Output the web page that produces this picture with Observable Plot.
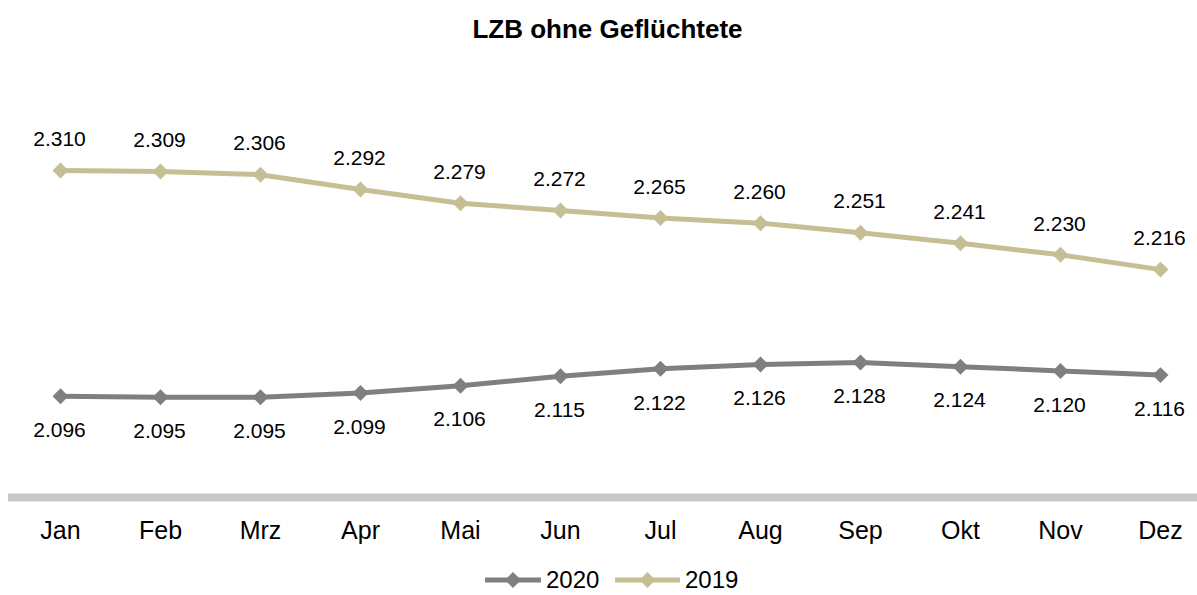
<!DOCTYPE html>
<html>
<head>
<meta charset="utf-8">
<script src="https://cdn.jsdelivr.net/npm/d3@7"></script>
<script src="https://cdn.jsdelivr.net/npm/@observablehq/plot@0.6"></script>
<style>
  html, body { margin: 0; padding: 0; background: #fff; }
  body { width: 1197px; height: 595px; overflow: hidden; font-family: "Liberation Sans", Arial, sans-serif; }
  #title { height: 60px; line-height: 58px; text-align: center; font-weight: bold; font-size: 26px; color: #000; padding-left: 18px; box-sizing: border-box; }
  #legend { height: 30px; position: relative; font-size: 24px; color: #000; }
  .item { position: absolute; top: 0; height: 30px; display: flex; align-items: center; }
  .item svg { margin-right: 5px; }
</style>
</head>
<body>
<div id="title">LZB ohne Geflüchtete</div>
<div id="chart"></div>
<div id="legend"></div>
<script>
const months = ["Jan", "Feb", "Mrz", "Apr", "Mai", "Jun", "Jul", "Aug", "Sep", "Okt", "Nov", "Dez"];
const values2020 = [2096, 2095, 2095, 2099, 2106, 2115, 2122, 2126, 2128, 2124, 2120, 2116];
const values2019 = [2310, 2309, 2306, 2292, 2279, 2272, 2265, 2260, 2251, 2241, 2230, 2216];
const seriesNames = ["2020", "2019"];
const seriesColors = ["#7f7f7f", "#c6bf94"];

const fmt = d => d3.format(",")(d).replace(/,/g, ".");
const data2020 = months.map((m, i) => ({month: m, value: values2020[i]}));
const data2019 = months.map((m, i) => ({month: m, value: values2019[i]}));

const chart = Plot.plot({
  width: 1197,
  height: 505,
  marginLeft: 59,
  marginRight: 36,
  marginTop: 15,
  marginBottom: 68,
  style: {fontFamily: "'Liberation Sans', Arial, sans-serif", color: "#000", background: "#fff"},
  x: {type: "point", domain: months, padding: 0},
  y: {domain: [2000, 2400], axis: null},
  marks: [
    Plot.ruleY([2000], {stroke: "#c8c8c8", strokeWidth: 8, insetLeft: -51, insetRight: -36}),
    Plot.axisX({tickSize: 0, tickPadding: 24, fontSize: 25, label: null, fill: "#000"}),
    Plot.line(data2020, {x: "month", y: "value", stroke: seriesColors[0], strokeWidth: 5}),
    Plot.dot(data2020, {x: "month", y: "value", symbol: "diamond2", r: 7.2, fill: seriesColors[0]}),
    Plot.line(data2019, {x: "month", y: "value", stroke: seriesColors[1], strokeWidth: 5}),
    Plot.dot(data2019, {x: "month", y: "value", symbol: "diamond2", r: 7.2, fill: seriesColors[1]}),
    Plot.text(data2019, {x: "month", y: "value", text: d => fmt(d.value), dy: -31, dx: -1, fontSize: 21, fill: "#000"}),
    Plot.text(data2020, {x: "month", y: "value", text: d => fmt(d.value), dy: 34, dx: -1, fontSize: 21, fill: "#000"})
  ]
});
document.getElementById("chart").appendChild(chart);

const legend = document.getElementById("legend");
const lefts = [485, 615];
const swatchWidths = [56, 65];
seriesNames.forEach((name, i) => {
  const w = swatchWidths[i];
  const item = document.createElement("div");
  item.className = "item";
  item.style.left = lefts[i] + "px";
  item.innerHTML = `<svg width="${w}" height="20"><line x1="0" y1="10" x2="${w}" y2="10" stroke="${seriesColors[i]}" stroke-width="5"/><path d="M${w/2},2 L${w/2+8},10 L${w/2},18 L${w/2-8},10 Z" fill="${seriesColors[i]}"/></svg><span>${name}</span>`;
  legend.appendChild(item);
});
</script>
</body>
</html>
